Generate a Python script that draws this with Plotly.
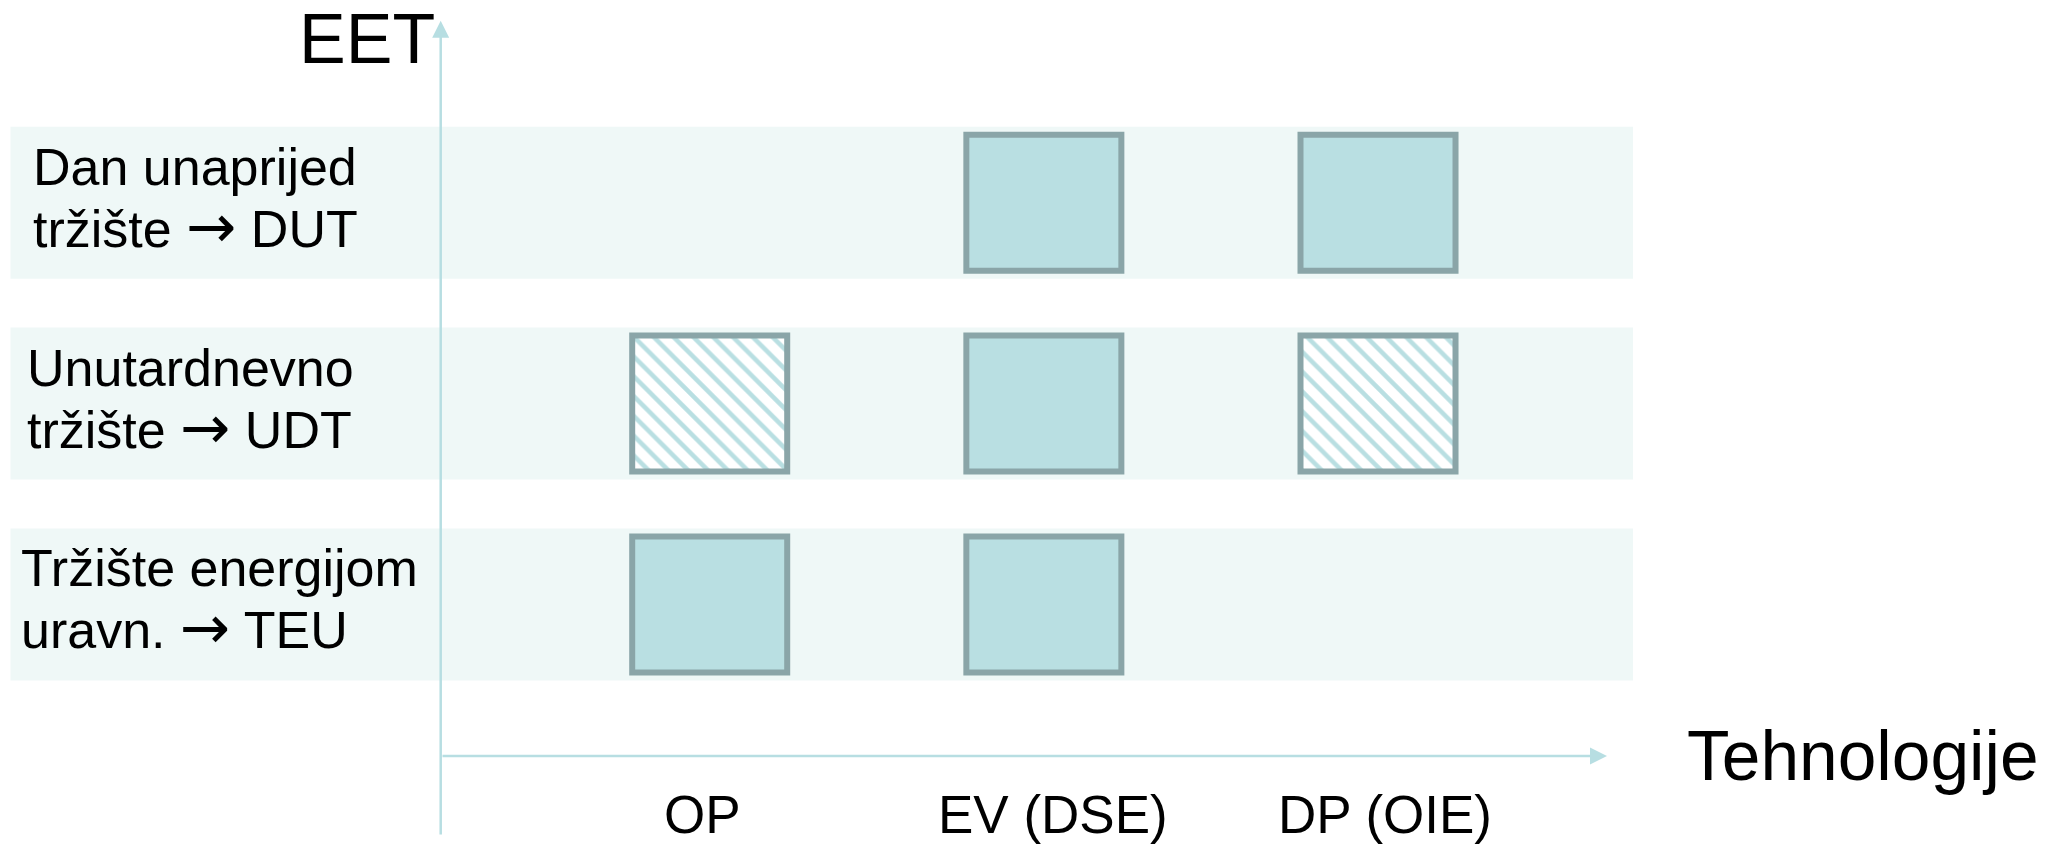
import plotly.graph_objects as go

# ---------------- data ----------------
technologies = ["OP", "EV (DSE)", "DP (OIE)"]
markets = ["DUT", "UDT", "TEU"]  # top to bottom
market_line1 = ["Dan unaprijed", "Unutardnevno", "Tržište energijom"]
market_line2 = ["tržište → DUT", "tržište → UDT", "uravn. → TEU"]
# participation per market: 2 = full, 1 = partial (hatched), 0 = none
participation_dut = [0, 2, 2]
participation_udt = [1, 2, 1]
participation_teu = [2, 2, 0]
y_axis_title = "EET"
x_axis_title = "Tehnologije"

# ---------------- styles ----------------
W, H = 2067, 846
FILL = "#B9DFE2"
EDGE = "#8AA5A8"
BAND = "#EFF8F7"
AXIS = "#B7DEE2"
FONT = "Liberation Sans, Arial, sans-serif"
HALF_H = 0.3386
BAR_W = 0.4639
BAND_HALF = 0.3784
TECH_XSHIFT = [-7, 9, 7]
LABEL_X = [31, 25, 19]


def styled_arrow(s):
    return s.replace("→", '<span style="font-family:DejaVu Sans;font-size:60px">→</span>')


participation = [participation_dut, participation_udt, participation_teu]
n_rows = len(markets)
row_y = [n_rows - 1 - i for i in range(n_rows)]

full_x, full_base, part_x, part_base = [], [], [], []
for i, row in enumerate(participation):
    for j, v in enumerate(row):
        if v == 2:
            full_x.append(j)
            full_base.append(row_y[i] - HALF_H)
        elif v == 1:
            part_x.append(j)
            part_base.append(row_y[i] - HALF_H)

fig = go.Figure()
fig.add_trace(go.Bar(
    x=full_x, y=[2 * HALF_H] * len(full_x), base=full_base, width=BAR_W,
    marker=dict(color=FILL, line=dict(color=EDGE, width=6)),
    hoverinfo="skip",
))
fig.add_trace(go.Bar(
    x=part_x, y=[2 * HALF_H] * len(part_x), base=part_base, width=BAR_W,
    marker=dict(color="white", line=dict(color=EDGE, width=6),
                pattern=dict(shape="\\", fgcolor=FILL, bgcolor="white",
                             size=14, solidity=0.32, fillmode="replace")),
    hoverinfo="skip",
))

shapes = []
for r in row_y:
    shapes.append(dict(type="rect", xref="paper", yref="y",
                       x0=10.5 / W, x1=1633 / W, y0=r - BAND_HALF, y1=r + BAND_HALF,
                       fillcolor=BAND, line=dict(width=0), layer="below"))

annotations = []
# axis arrows
annotations.append(dict(xref="paper", yref="paper", x=440.7 / W, y=1 - 20.7 / H,
                        axref="pixel", ayref="pixel", ax=0, ay=836 - 20.7,
                        showarrow=True, arrowhead=2, arrowsize=1.36, arrowwidth=2.5,
                        arrowcolor=AXIS, text="", standoff=0))
annotations.append(dict(xref="paper", yref="paper", x=1607 / W, y=1 - 756 / H,
                        axref="pixel", ayref="pixel", ax=-(1607 - 441), ay=0,
                        showarrow=True, arrowhead=2, arrowsize=1.36, arrowwidth=2.5,
                        arrowcolor=AXIS, text="", standoff=0))
# axis titles
annotations.append(dict(xref="paper", yref="paper", x=297 / W, y=1 - 38.7 / H,
                        xanchor="left", yanchor="middle", showarrow=False,
                        text=y_axis_title, font=dict(family=FONT, size=70, color="black")))
annotations.append(dict(xref="paper", yref="paper", x=1684.8 / W, y=1 - 755.5 / H,
                        xanchor="left", yanchor="middle", showarrow=False,
                        text=x_axis_title, font=dict(family=FONT, size=69.5, color="black")))
# technology labels
for j, t in enumerate(technologies):
    annotations.append(dict(xref="x", yref="paper", x=j, y=1 - 814.5 / H,
                            xshift=TECH_XSHIFT[j],
                            xanchor="center", yanchor="middle", showarrow=False,
                            text=t, font=dict(family=FONT, size=53, color="black")))
# market labels
for i in range(n_rows):
    for txt, shift in ((market_line1[i], 36), (market_line2[i], -23)):
        annotations.append(dict(xref="paper", yref="y", x=LABEL_X[i] / W, y=row_y[i],
                                yshift=shift, xanchor="left", yanchor="middle",
                                showarrow=False, text=styled_arrow(txt),
                                font=dict(family=FONT, size=52, color="black")))

fig.update_layout(
    width=W, height=H,
    margin=dict(l=0, r=0, t=0, b=0, pad=0),
    paper_bgcolor="white", plot_bgcolor="white",
    showlegend=False, barmode="overlay",
    xaxis=dict(visible=False, range=[-2.1239, 4.0619], fixedrange=True),
    yaxis=dict(visible=False, range=[-1.2029, 3.0092], fixedrange=True),
    shapes=shapes, annotations=annotations,
)

fig.write_html("out.html", config={"displayModeBar": False},
               post_script="document.body.style.margin='0';document.body.style.overflow='hidden';")
